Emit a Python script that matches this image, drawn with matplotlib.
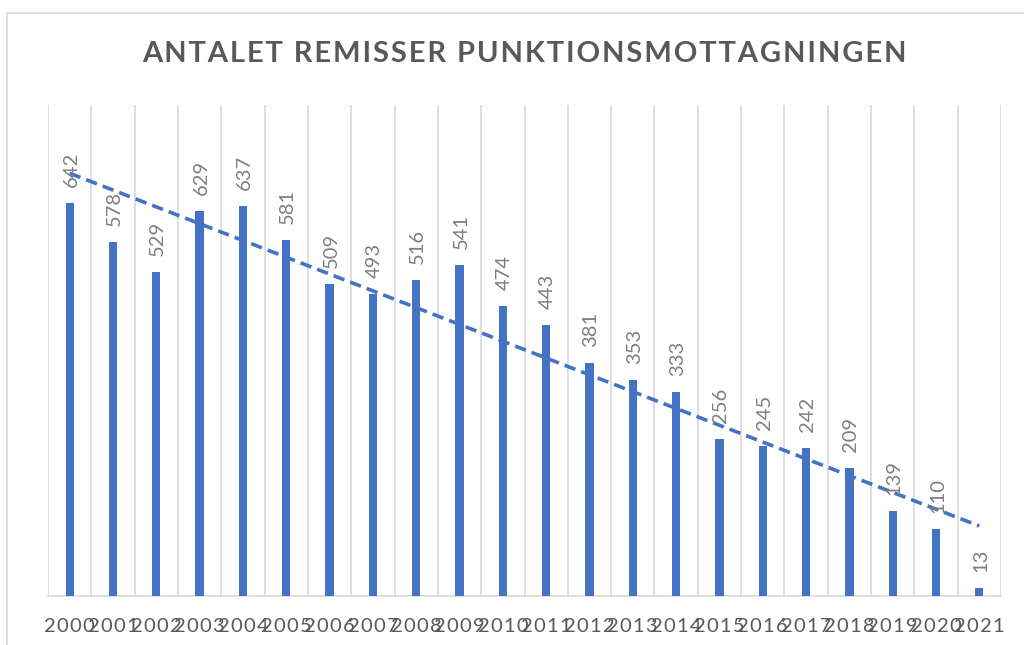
import numpy as np
import matplotlib
matplotlib.use("Agg")
import matplotlib.pyplot as plt
from matplotlib.patches import Rectangle

years = [str(y) for y in range(2000, 2022)]
values = [642, 578, 529, 629, 637, 581, 509, 493, 516, 541, 474, 443,
          381, 353, 333, 256, 245, 242, 209, 139, 110, 13]
title = "ANTALET REMISSER PUNKTIONSMOTTAGNINGEN"

plt.rcParams['font.family'] = ['Lato', 'DejaVu Sans']
HS = '\u200a'

def spaced(s):
    return HS.join(s)

fig = plt.figure(figsize=(10.24, 6.45), dpi=100)
fig.patches.append(Rectangle((7/1024, -0.1), 1.2, 1 - 13/645 + 0.1,
                             transform=fig.transFigure, fill=False,
                             edgecolor='#D9D9D9', linewidth=1.2))
ax = fig.add_axes([48/1024, 49/645, 953/1024, 491/645])

x = np.arange(len(values))
bar_color = '#4472C4'
ax.bar(x, values, width=0.19, color=bar_color, zorder=3)

# trendline
k, m = np.polyfit(x, values, 1)
ax.plot([x[0], x[-1]], [k*x[0]+m, k*x[-1]+m], linestyle=(0, (3.2, 1.7)),
        color=bar_color, linewidth=2.6, zorder=4)

for xi, v in zip(x, values):
    ax.annotate(str(v), (xi, v), xytext=(1, 11.5), textcoords='offset points',
                rotation=90, ha='center', va='bottom', fontsize=14.5,
                color='#7F7F7F', zorder=5)

ax.set_xlim(-0.5, len(values) - 0.5)
ax.set_ylim(0, 802)
for g in np.arange(-0.5, len(values), 1.0):
    ax.axvline(g, color='#D9D9D9', linewidth=1.2, zorder=1)

ax.set_yticks([])
ax.set_xticks(x)
ax.set_xticklabels([spaced(y) for y in years], fontsize=14.5, color='#595959')
ax.tick_params(axis='x', length=0, pad=16)
for s in ['top', 'right', 'left']:
    ax.spines[s].set_visible(False)
ax.spines['bottom'].set_color('#D9D9D9')
ax.spines['bottom'].set_linewidth(1.2)
ax.spines['bottom'].set_zorder(2)

fig.text(524/1024, 1 - 54/645, spaced(title), ha='center', va='center',
         fontsize=21, fontweight='bold', color='#595959')

fig.savefig('out.png', dpi=100)
